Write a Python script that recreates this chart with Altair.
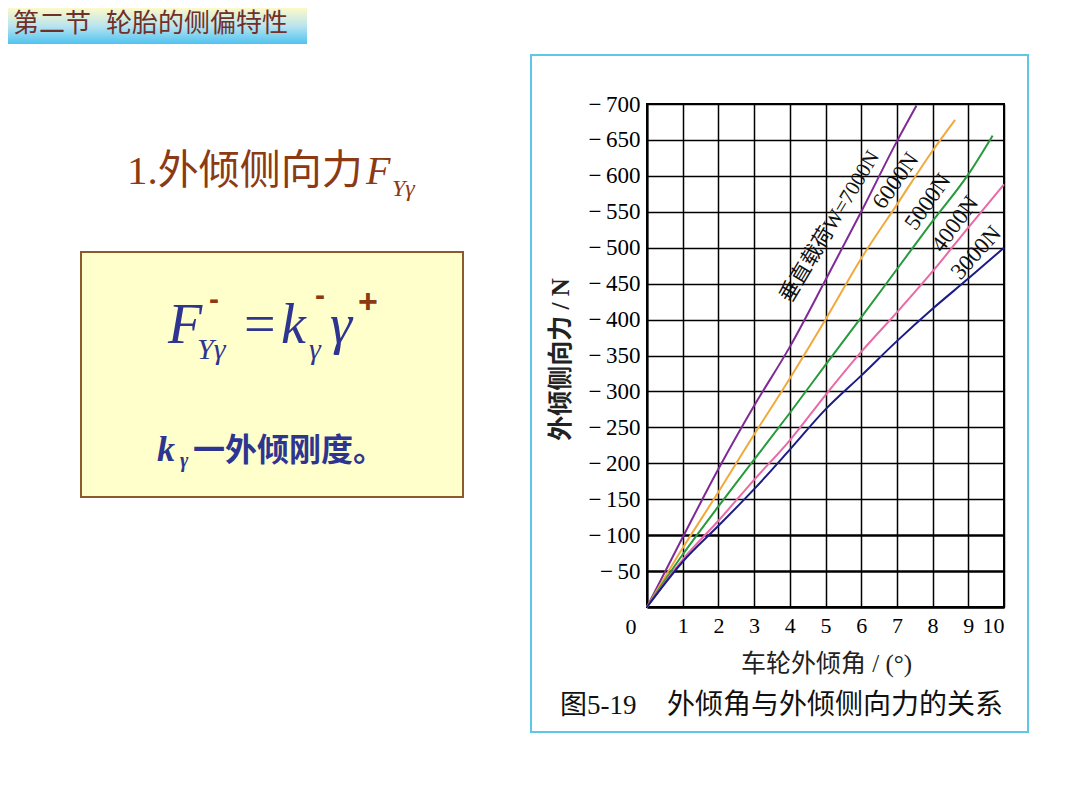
import altair as alt
import pandas as pd

# ---------------- data ----------------
loads = ["7000N", "6000N", "5000N", "4000N", "3000N"]
colors = ["#7f2a96", "#f2a93b", "#279a3c", "#e86aa6", "#1c1c86"]

deg_7000 = [0, 1, 2, 3, 4, 5, 6, 7, 7.55]
f_7000 = [0, -97, -192, -280, -362, -455, -550, -648, -698]
deg_6000 = [0, 1, 2, 3, 4, 5, 6, 7, 8, 8.63]
f_6000 = [0, -82, -160, -240, -318, -400, -485, -560, -635, -678]
deg_5000 = [0, 1, 2, 3, 4, 5, 6, 7, 8, 9, 9.68]
f_5000 = [0, -73, -140, -205, -270, -337, -403, -470, -537, -602, -656]
deg_4000 = [0, 1, 2, 3, 4, 5, 6, 7, 8, 9, 10]
f_4000 = [0, -66, -120, -177, -232, -295, -355, -410, -467, -528, -588]
deg_3000 = [0, 1, 2, 3, 4, 5, 6, 7, 8, 9, 10]
f_3000 = [0, -63, -113, -164, -219, -275, -322, -370, -415, -457, -500]

x_ticks = list(range(0, 11))
y_ticks = list(range(-700, 1, 50))

label_text = ["垂直载荷W=7000N", "6000N", "5000N", "4000N", "3000N"]
label_deg = [5.13, 6.97, 7.87, 8.63, 9.22]
label_force = [-529, -593, -564, -533, -493]
label_angle = [301, 305, 305, 306, 312]

rows = []
for name, d, f in zip(loads, [deg_7000, deg_6000, deg_5000, deg_4000, deg_3000],
                      [f_7000, f_6000, f_5000, f_4000, f_3000]):
    for a, b in zip(d, f):
        rows.append({"load": name, "deg": a, "force": b})
df = pd.DataFrame(rows)
lab_df = pd.DataFrame({"label": label_text, "deg": label_deg, "force": label_force,
                       "ang": label_angle, "size": [21, 23, 23, 23, 23]})
zero_df = pd.DataFrame({"deg": [0], "force": [0]})
one = pd.DataFrame({"k": [0]})

# ---------------- layout helpers ----------------
OX, OY = 647, 104  # page position of plot origin
SERIF = "Liberation Serif"
MIX = "Liberation Serif, Noto Sans CJK SC"
CJK = "Noto Sans CJK SC"
BLUE = "#2e3590"
BROWN = "#8b3a14"


def text_layer(s, x, y, size, color, font, weight="normal", style="normal",
               align="left", baseline="alphabetic"):
    return alt.Chart(one).mark_text(
        text=s, fontSize=size, color=color, font=font, fontWeight=weight,
        fontStyle=style, align=align, baseline=baseline
    ).encode(x=alt.value(x - OX), y=alt.value(y - OY))


def rect_layer(x1, y1, x2, y2, **props):
    return alt.Chart(one).mark_rect(**props).encode(
        x=alt.value(x1 - OX), x2=alt.value(x2 - OX),
        y=alt.value(y1 - OY), y2=alt.value(y2 - OY))


X = alt.X("deg:Q",
          scale=alt.Scale(domain=[0, 10], nice=False),
          axis=alt.Axis(values=x_ticks,
                        labelExpr="datum.value == 0 ? '' : datum.label",
                        labelFont=SERIF, labelFontSize=22, labelColor="black",
                        labelPadding=8, tickSize=0,
                        domainColor="black", domainWidth=2.5,
                        grid=True, gridColor="black", gridWidth=1.5, gridOpacity=1,
                        title="车轮外倾角 / (°)", titleFont=MIX, titleFontSize=25,
                        titleFontWeight="normal", titleColor="#222222",
                        titleX=179, titleY=56, titleBaseline="middle", titleAlign="center"))
Y = alt.Y("force:Q",
          scale=alt.Scale(domain=[-700, 0], reverse=True, nice=False),
          axis=alt.Axis(values=y_ticks,
                        labelExpr="datum.value == 0 ? '' : '−\u2009' + format(-datum.value, 'd')",
                        labelFont=SERIF, labelFontSize=23, labelColor="black",
                        labelPadding=7, tickSize=0,
                        domainColor="black", domainWidth=2,
                        grid=True, gridColor="black", gridOpacity=1,
                        gridWidth={"condition": {"test": "datum.value == -50 || datum.value == -100",
                                                 "value": 2.6}, "value": 1.5},
                        title="外倾侧向力 / N", titleFont=MIX, titleFontSize=25,
                        titleFontWeight="bold", titleColor="#222222",
                        titleAngle=270, titleX=-87, titleY=255,
                        titleBaseline="middle", titleAlign="center"))

lines = alt.Chart(df).mark_line(strokeWidth=2, interpolate="monotone").encode(
    x=X, y=Y,
    color=alt.Color("load:N", scale=alt.Scale(domain=loads, range=colors), legend=None))

line_labels = alt.Chart(lab_df).mark_text(
    font=MIX, color="#111111", align="center", baseline="middle"
).encode(x=X, y=Y, text="label:N", angle=alt.Angle("ang:Q", scale=None),
         size=alt.Size("size:Q", scale=None))

zero_label = alt.Chart(zero_df).mark_text(
    text="0", font=SERIF, fontSize=22, color="black", dx=-16, dy=20, baseline="middle"
).encode(x=X, y=Y)

# ---------------- slide decorations ----------------
grad = {"gradient": "linear", "x1": 0, "y1": 0, "x2": 0, "y2": 1,
        "stops": [{"offset": 0, "color": "#fdf9c9"},
                  {"offset": 0.5, "color": "#b9e4ef"},
                  {"offset": 1, "color": "#4fc3f0"}]}

decor = [
    rect_layer(8, 8, 307, 44, color=grad),
    text_layer("第二节", 13, 24, 26, "#70302a", CJK, baseline="middle"),
    text_layer("轮胎的侧偏特性", 106, 24, 26, "#70302a", CJK, baseline="middle"),
    text_layer("1.外倾侧向力", 127, 184, 41, BROWN, MIX),
    text_layer("F", 366, 184, 40, BROWN, SERIF, style="italic"),
    text_layer("Yγ", 392, 196, 24, BROWN, SERIF, style="italic"),
    rect_layer(81, 252, 463, 497, color="#ffffcc", stroke="#8c5a2b", strokeWidth=2),
    text_layer("F", 168, 343, 56, BLUE, SERIF, style="italic"),
    text_layer("Yγ", 197, 359, 30, BLUE, SERIF, style="italic"),
    text_layer("=", 244, 343, 56, BLUE, SERIF),
    text_layer("k", 281, 343, 56, BLUE, SERIF, style="italic"),
    text_layer("γ", 309, 359, 30, BLUE, SERIF, style="italic"),
    text_layer("γ", 330, 343, 56, BLUE, SERIF, style="italic"),
    text_layer("-", 214, 300, 30, BROWN, "Liberation Sans", weight="bold",
               align="center", baseline="middle"),
    text_layer("-", 320, 296, 30, BROWN, "Liberation Sans", weight="bold",
               align="center", baseline="middle"),
    text_layer("+", 368, 303, 34, BROWN, "Liberation Sans", weight="bold",
               align="center", baseline="middle"),
    text_layer("k", 157, 461, 36, BLUE, SERIF, weight="bold", style="italic"),
    text_layer("γ", 180, 467, 20, BLUE, SERIF, weight="bold", style="italic"),
    text_layer("一外倾刚度。", 193, 461, 32, BLUE, CJK, weight="bold"),
    rect_layer(531, 55, 1028, 732, filled=False, stroke="#5fc6e6", strokeWidth=2),
    text_layer("图5-19", 560, 714, 27, "#111111", MIX),
    text_layer("外倾角与外倾侧向力的关系", 667, 714, 28, "#111111", CJK),
]

chart = alt.layer(*decor, lines, line_labels, zero_label).properties(
    width=357, height=503,
    padding={"left": 639, "top": 96, "right": 68, "bottom": 195},
    autosize=alt.AutoSizeParams(type="none"),
    background="white",
).configure_view(stroke="black", strokeWidth=2)

chart.save("out.html", embed_options={"renderer": "svg", "actions": False})
